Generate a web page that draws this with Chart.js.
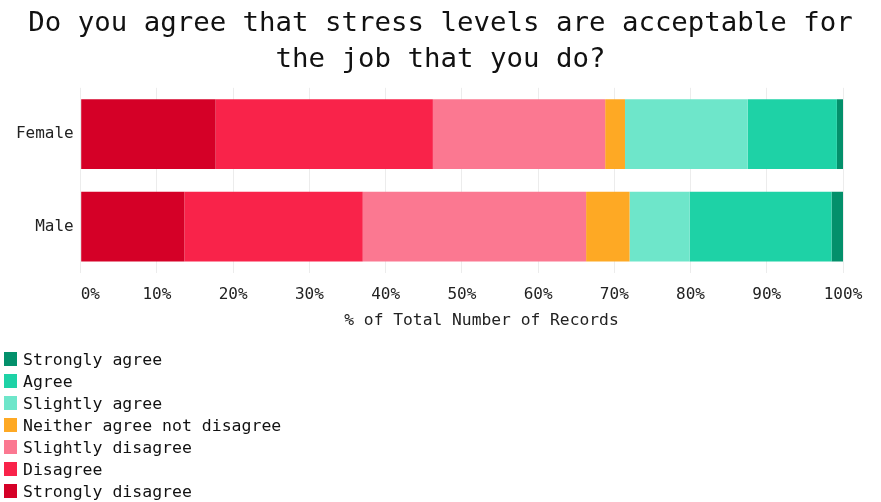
<!DOCTYPE html>
<html>
<head>
<meta charset="utf-8">
<script src="https://cdn.jsdelivr.net/npm/chart.js@4"></script>
<style>
  html, body { margin: 0; padding: 0; background: #fff; }
  #wrap { position: relative; width: 881px; height: 502px; }
  #legend { position: absolute; left: 4px; top: 348px; font-family: "DejaVu Sans Mono", monospace; font-size: 16.5px; color: #111; }
  .item { height: 22px; display: flex; align-items: center; }
  .box { width: 13px; height: 14px; margin-right: 6px; }
</style>
</head>
<body>
<div id="wrap">
  <canvas id="c" width="881" height="502"></canvas>
  <div id="legend"></div>
</div>
<script>
const categories = ['Female', 'Male'];
const seriesNames = ['Strongly disagree', 'Disagree', 'Slightly disagree', 'Neither agree not disagree', 'Slightly agree', 'Agree', 'Strongly agree'];
const stronglyDisagree = [17.7, 13.6];
const disagree = [28.5, 23.4];
const slightlyDisagree = [22.6, 29.3];
const neither = [2.6, 5.7];
const slightlyAgree = [16.1, 7.9];
const agree = [11.7, 18.6];
const stronglyAgree = [0.8, 1.5];
const seriesColors = ['#d50027', '#f9234a', '#fb7891', '#fea924', '#6ee6ca', '#1ed2a6', '#03906b'];
const xTicks = [0, 10, 20, 30, 40, 50, 60, 70, 80, 90, 100];
const titleLines = ['Do you agree that stress levels are acceptable for', 'the job that you do?'];
const xTitle = '% of Total Number of Records';

const values = [stronglyDisagree, disagree, slightlyDisagree, neither, slightlyAgree, agree, stronglyAgree];
const FONT = '"DejaVu Sans Mono", monospace';

const chart = new Chart(document.getElementById('c'), {
  type: 'bar',
  data: {
    labels: categories,
    datasets: seriesNames.map((n, i) => ({
      label: n,
      data: values[i],
      backgroundColor: seriesColors[i],
      borderWidth: 0,
      barPercentage: 1,
      categoryPercentage: 0.753
    }))
  },
  options: {
    indexAxis: 'y',
    responsive: false,
    animation: false,
    layout: { padding: { left: 0, right: 0, top: 0, bottom: 168 } },
    plugins: {
      legend: { display: false },
      tooltip: { enabled: false },
      title: {
        display: true,
        text: titleLines,
        color: '#111',
        font: { family: FONT, size: 27.4, weight: 'normal', lineHeight: 1.32 },
        padding: { top: 6, bottom: 9.5 }
      }
    },
    scales: {
      x: {
        stacked: true,
        min: 0,
        max: 100,
        afterBuildTicks: (axis) => { axis.ticks = xTicks.map(v => ({ value: v })); },
        afterFit: (axis) => { axis.height = 61; axis.paddingLeft = 0; axis.paddingRight = 38; },
        ticks: {
          color: '#222',
          font: { family: FONT, size: 16 },
          padding: 12,
          maxRotation: 0,
          autoSkip: false,
          callback: (v) => (v === 0 ? '  0%' : v + '%')
        },
        grid: { color: '#ececec', drawTicks: false },
        border: { display: false },
        title: {
          display: true,
          text: '    ' + xTitle,
          color: '#222',
          font: { family: FONT, size: 16.3 },
          padding: { top: 8, bottom: 3 }
        }
      },
      y: {
        stacked: true,
        afterFit: (axis) => { axis.width = 80.7; },
        ticks: { color: '#222', font: { family: FONT, size: 16 }, padding: 7 },
        grid: { display: false, drawTicks: false },
        border: { display: false }
      }
    }
  }
});

const legend = document.getElementById('legend');
chart.data.datasets.slice().reverse().forEach(ds => {
  const row = document.createElement('div');
  row.className = 'item';
  const box = document.createElement('span');
  box.className = 'box';
  box.style.background = ds.backgroundColor;
  const txt = document.createElement('span');
  txt.textContent = ds.label;
  row.appendChild(box);
  row.appendChild(txt);
  legend.appendChild(row);
});
</script>
</body>
</html>
